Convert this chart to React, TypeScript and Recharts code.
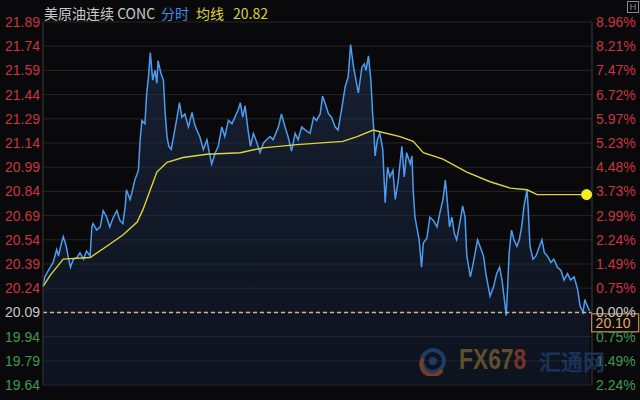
import React from 'react';
import {
  ComposedChart,
  Area,
  Line,
  XAxis,
  YAxis,
  CartesianGrid,
  ReferenceLine,
  ReferenceDot,
} from 'recharts';

// ---------- data ----------
const PREV_CLOSE = 20.09;
const LAST_PRICE = 20.1;

const yTicks = [21.89, 21.74, 21.59, 21.44, 21.29, 21.14, 20.99, 20.84, 20.69, 20.54, 20.39, 20.24, 20.09, 19.94, 19.79, 19.64];
const yTickLabels = ['21.89', '21.74', '21.59', '21.44', '21.29', '21.14', '20.99', '20.84', '20.69', '20.54', '20.39', '20.24', '20.09', '19.94', '19.79', '19.64'];
const pctTickLabels = ['8.96%', '8.21%', '7.47%', '6.72%', '5.97%', '5.23%', '4.48%', '3.73%', '2.99%', '2.24%', '1.49%', '0.75%', '0.00%', '0.75%', '1.49%', '2.24%'];

// minutes from session start
const timeGridLines = [240, 480, 720];
const sessionMinutes = 921;

// [minute, price]
const pricePoints: [number, number][] = [
  [0, 20.25], [3, 20.31], [9, 20.35], [17, 20.4], [23, 20.48], [26, 20.44], [31, 20.52], [34, 20.56],
  [39, 20.5], [42, 20.44], [46, 20.37], [51, 20.42], [57, 20.43], [62, 20.46], [68, 20.42], [73, 20.47],
  [79, 20.44], [82, 20.62], [84, 20.64], [90, 20.6], [96, 20.62], [101, 20.72], [107, 20.68], [112, 20.62],
  [118, 20.68], [124, 20.72], [129, 20.66], [134, 20.64], [138, 20.75], [140, 20.85], [146, 20.79], [149, 20.83],
  [154, 20.91], [160, 20.97], [163, 21.16], [166, 21.28], [171, 21.26], [174, 21.45], [177, 21.55], [180, 21.7],
  [184, 21.53], [188, 21.59], [191, 21.51], [193, 21.65], [198, 21.57], [202, 21.53], [205, 21.32], [208, 21.18],
  [211, 21.12], [215, 21.1], [219, 21.18], [224, 21.28], [229, 21.39], [233, 21.3], [238, 21.32], [244, 21.24],
  [250, 21.33], [254, 21.26], [258, 21.22], [263, 21.18], [269, 21.1], [275, 21.16], [279, 21.08], [283, 21.01],
  [289, 21.08], [294, 21.12], [300, 21.24], [305, 21.18], [311, 21.28], [317, 21.26], [322, 21.3], [328, 21.35],
  [331, 21.39], [335, 21.3], [339, 21.37], [344, 21.22], [348, 21.12], [353, 21.2], [359, 21.14], [364, 21.08],
  [370, 21.14], [375, 21.16], [381, 21.18], [386, 21.16], [395, 21.24], [400, 21.32], [406, 21.24], [411, 21.18],
  [417, 21.09], [423, 21.2], [428, 21.16], [434, 21.24], [440, 21.22], [448, 21.2], [454, 21.3], [459, 21.28],
  [465, 21.32], [469, 21.43], [473, 21.39], [479, 21.32], [484, 21.3], [490, 21.24], [495, 21.22], [501, 21.35],
  [507, 21.49], [512, 21.55], [516, 21.75], [521, 21.61], [525, 21.53], [529, 21.45], [535, 21.61], [539, 21.63],
  [542, 21.59], [546, 21.68], [550, 21.53], [553, 21.32], [555, 21.22], [557, 21.06], [561, 21.16], [565, 21.2],
  [570, 21.1], [574, 20.77], [578, 20.99], [582, 20.93], [587, 20.97], [591, 20.79], [596, 20.91], [602, 21.12],
  [606, 20.93], [610, 21.08], [616, 21.01], [619, 21.06], [621, 20.85], [624, 20.68], [628, 20.6], [631, 20.54],
  [635, 20.37], [638, 20.52], [644, 20.55], [649, 20.68], [655, 20.66], [661, 20.62], [666, 20.71], [671, 20.79],
  [675, 20.91], [677, 20.83], [682, 20.62], [686, 20.68], [690, 20.58], [694, 20.54], [700, 20.66], [704, 20.75],
  [708, 20.68], [711, 20.44], [717, 20.31], [722, 20.4], [729, 20.54], [733, 20.5], [739, 20.44], [743, 20.33],
  [747, 20.25], [750, 20.19], [756, 20.25], [761, 20.33], [766, 20.37], [770, 20.29], [774, 20.17], [777, 20.07],
  [779, 20.21], [782, 20.46], [786, 20.6], [790, 20.54], [795, 20.5], [799, 20.54], [803, 20.62], [807, 20.75],
  [812, 20.85], [814, 20.73], [817, 20.5], [822, 20.42], [827, 20.44], [833, 20.5], [837, 20.54], [841, 20.46],
  [846, 20.44], [852, 20.4], [857, 20.42], [863, 20.37], [869, 20.35], [874, 20.29], [880, 20.33], [885, 20.29],
  [891, 20.31], [897, 20.23], [901, 20.13], [906, 20.09], [909, 20.17], [913, 20.13], [917, 20.1],
];

// [minute, average price]
const avgPoints: [number, number][] = [
  [0, 20.25], [12, 20.32], [34, 20.42], [79, 20.43], [107, 20.5], [134, 20.57], [158, 20.65], [168, 20.73],
  [180, 20.85], [191, 20.96], [208, 21.02], [235, 21.05], [275, 21.07], [331, 21.08], [369, 21.11], [426, 21.13],
  [503, 21.15], [527, 21.18], [554, 21.22], [565, 21.21], [599, 21.18], [621, 21.15], [638, 21.08], [671, 21.04],
  [711, 20.96], [750, 20.9], [784, 20.86], [812, 20.85], [829, 20.82], [856, 20.82], [912, 20.82],
];

// ---------- table ----------
type Row = { t: number; price?: number; avg?: number };
const rowMap = new Map<number, Row>();
pricePoints.forEach(([t, v]) => {
  const r = rowMap.get(t) || { t };
  r.price = v;
  rowMap.set(t, r);
});
avgPoints.forEach(([t, v]) => {
  const r = rowMap.get(t) || { t };
  r.avg = v;
  rowMap.set(t, r);
});
const table: Row[] = Array.from(rowMap.values()).sort((a, b) => a.t - b.t);

const lastAvg = avgPoints[avgPoints.length - 1];
const lastPrice = pricePoints[pricePoints.length - 1];

// ---------- styles ----------
const RED = '#c9353e';
const GREEN = '#3f9a4d';
const GRAY = '#c8c8c8';
const BLUE = '#4d9cef';
const YELLOW = '#dcd43c';
const GRID = '#25272c';
const NUM_FONT = "'Liberation Sans', Arial, sans-serif";
const CJK_FONT = "'Noto Sans CJK SC', 'Liberation Sans', sans-serif";

const tickColor = (v: number) =>
  v > PREV_CLOSE + 1e-6 ? RED : v < PREV_CLOSE - 1e-6 ? GREEN : GRAY;

const LeftTick = (props: any) => {
  const { x, y, payload } = props;
  const v = payload.value as number;
  const i = yTicks.findIndex((t) => Math.abs(t - v) < 1e-6);
  return (
    <text x={x} y={y} dy="0.36em" textAnchor="end" fill={tickColor(v)} fontSize={14} fontFamily={NUM_FONT}>
      {i >= 0 ? yTickLabels[i] : v}
    </text>
  );
};

const RightTick = (props: any) => {
  const { x, y, payload } = props;
  const v = payload.value as number;
  const i = yTicks.findIndex((t) => Math.abs(t - v) < 1e-6);
  return (
    <text x={x} y={y} dy="0.36em" textAnchor="start" fill={tickColor(v)} fontSize={14} fontFamily={NUM_FONT}>
      {i >= 0 ? pctTickLabels[i] : ''}
    </text>
  );
};

const PriceBox = (props: any) => {
  const { cx, cy } = props;
  if (cx == null || cy == null) return null;
  return (
    <g>
      <rect x={cx + 2} y={cy + 3} width={47} height={18} fill="#0b0b0d" stroke="#c08535" strokeWidth={1.3} />
      <text x={cx + 6} y={cy + 12} dy="0.36em" fill="#e3a968" fontSize={14} fontFamily={NUM_FONT}>
        {LAST_PRICE.toFixed(2)}
      </text>
    </g>
  );
};

export default function App() {
  return (
    <div
      style={{
        position: 'absolute',
        left: 0,
        top: 0,
        width: 640,
        height: 400,
        background: '#09090b',
        overflow: 'hidden',
      }}
    >
      <ComposedChart
        width={640}
        height={400}
        data={table}
        margin={{ top: 22, right: 0, bottom: 15, left: 0 }}
      >
        <defs>
          <linearGradient id="areaFill" x1="0" y1="0" x2="0" y2="1">
            <stop offset="0%" stopColor="#243658" stopOpacity={0.85} />
            <stop offset="100%" stopColor="#13203a" stopOpacity={0.7} />
          </linearGradient>
        </defs>
        <CartesianGrid stroke={GRID} strokeWidth={1} vertical={true} horizontal={true} yAxisId="left" />
        <XAxis
          dataKey="t"
          type="number"
          domain={[0, sessionMinutes]}
          ticks={timeGridLines}
          height={0}
          tick={false}
          tickLine={false}
          axisLine={false}
        />
        <YAxis
          yAxisId="left"
          orientation="left"
          width={43}
          domain={[19.64, 21.89]}
          ticks={yTicks}
          interval={0}
          allowDataOverflow
          tickSize={0}
          tickMargin={3}
          tickLine={false}
          axisLine={{ stroke: '#2c2e33' }}
          tick={<LeftTick />}
        />
        <YAxis
          yAxisId="right"
          orientation="right"
          width={48}
          domain={[19.64, 21.89]}
          ticks={yTicks}
          interval={0}
          allowDataOverflow
          tickSize={0}
          tickMargin={4}
          tickLine={false}
          axisLine={{ stroke: '#2c2e33' }}
          tick={<RightTick />}
        />
        <Area
          yAxisId="left"
          dataKey="price"
          type="linear"
          stroke={BLUE}
          strokeWidth={1.5}
          fill="url(#areaFill)"
          connectNulls
          dot={false}
          activeDot={false}
          isAnimationActive={false}
        />
        <ReferenceLine
          yAxisId="left"
          y={PREV_CLOSE}
          stroke="#d6b78c"
          strokeDasharray="4 3"
          strokeWidth={1.5}
        />
        <Line
          yAxisId="left"
          dataKey="avg"
          type="linear"
          stroke={YELLOW}
          strokeWidth={1.4}
          connectNulls
          dot={false}
          activeDot={false}
          isAnimationActive={false}
        />
        <ReferenceDot
          yAxisId="left"
          x={lastAvg[0]}
          y={lastAvg[1]}
          r={5}
          fill="#f3ee1e"
          stroke="#f3ee1e"
          ifOverflow="visible"
        />
        <ReferenceDot
          yAxisId="left"
          x={lastPrice[0]}
          y={lastPrice[1]}
          r={0}
          ifOverflow="visible"
          shape={<PriceBox />}
        />
      </ComposedChart>

      {/* title */}
      <div
        style={{
          position: 'absolute',
          left: 44,
          top: 3,
          height: 20,
          lineHeight: '20px',
          fontSize: 14,
          fontFamily: CJK_FONT,
          whiteSpace: 'nowrap',
        }}
      >
        <span style={{ color: '#c9c9c9' }}>美原油连续 CONC</span>
        <span style={{ color: '#3f8fe2', marginLeft: 6 }}>分时</span>
        <span style={{ color: '#d9d140', marginLeft: 7 }}>均线</span>
        <span style={{ color: '#d9d140', marginLeft: 9 }}>{lastAvg[1].toFixed(2)}</span>
      </div>

      {/* corner icon */}
      <div
        style={{
          position: 'absolute',
          left: 627,
          top: 1,
          width: 10,
          height: 10,
          border: '1px solid #8a8a8a',
          color: '#8a8a8a',
          fontSize: 9,
          lineHeight: '10px',
          textAlign: 'center',
          fontFamily: NUM_FONT,
        }}
      >
        H
      </div>

      {/* watermark */}
      <div style={{ position: 'absolute', left: 418, top: 346, opacity: 0.75, pointerEvents: 'none' }}>
        <svg width={30} height={30} style={{ position: 'absolute', left: 0, top: 0 }}>
          <circle cx={15} cy={15} r={11} fill="none" stroke="#25477a" strokeWidth={4} />
          <path d="M5 12 A11 11 0 0 0 24 24" fill="none" stroke="#9a4a2a" strokeWidth={4} />
          <circle cx={15} cy={15} r={4} fill="#25477a" />
        </svg>
        <div
          style={{
            position: 'absolute',
            left: 41,
            top: -4,
            fontSize: 30,
            fontWeight: 'bold',
            fontFamily: NUM_FONT,
            whiteSpace: 'nowrap',
            transform: 'scaleX(0.76)',
            transformOrigin: 'left top',
          }}
        >
          <span style={{ color: '#7d6130' }}>FX67</span>
          <span style={{ color: '#93402c' }}>8</span>
        </div>
        <div
          style={{
            position: 'absolute',
            left: 121,
            top: 0,
            fontSize: 22,
            fontWeight: 'bold',
            fontFamily: CJK_FONT,
            color: '#1f3d6c',
            whiteSpace: 'nowrap',
            lineHeight: '28px',
          }}
        >
          汇通网
        </div>
      </div>
    </div>
  );
}
